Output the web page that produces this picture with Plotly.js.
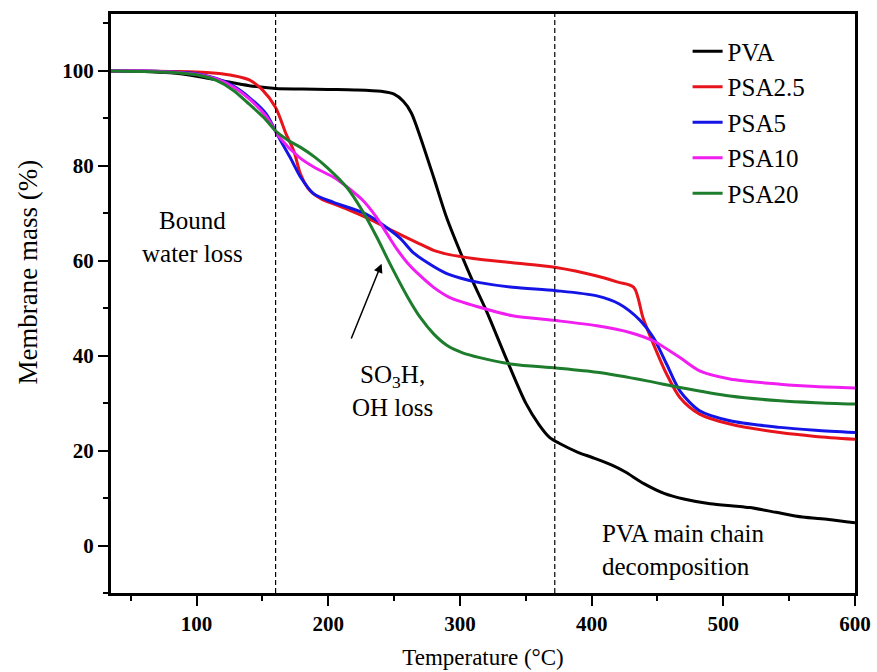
<!DOCTYPE html>
<html>
<head>
<meta charset="utf-8">
<script src="https://cdn.plot.ly/plotly-3.0.1.min.js"></script>
<style>html,body{margin:0;padding:0;background:#fff;}</style>
</head>
<body>
<div id="chart" style="width:877px;height:672px;"></div>
<script>
// Temperature (°C) and membrane mass (%)
const pvaT   = [35, 60, 80, 100, 120, 140, 160, 180, 200, 220, 240, 250, 257, 263, 270, 280, 290, 300, 310, 320, 335, 350, 360, 368, 375, 390, 400, 415, 425, 440, 455, 470, 490, 510, 520, 540, 560, 580, 600];
const pvaM   = [100, 99.9, 99.6, 98.9, 97.9, 96.9, 96.3, 96.2, 96.1, 96.0, 95.7, 95.1, 93.6, 91.2, 86, 77.6, 69, 62, 55.5, 49.5, 39.5, 30, 25.5, 22.8, 21.6, 19.6, 18.6, 17, 15.6, 13, 11, 9.8, 8.8, 8.3, 8.0, 7.0, 6.0, 5.5, 4.8];

const psa25T = [35, 60, 80, 100, 115, 128, 140, 150, 160, 168, 174, 179, 186, 195, 204, 215, 229, 249, 267, 280, 292, 310, 340, 373, 404, 420, 432, 439, 447, 457, 467, 482, 505, 543, 570, 600];
const psa25M = [100, 100, 99.9, 99.8, 99.5, 99.0, 98.1, 96.0, 92.3, 86.7, 83.0, 78.2, 74.8, 73.0, 72.0, 70.8, 69.1, 66.3, 63.9, 62.2, 61.3, 60.5, 59.6, 58.6, 56.8, 55.5, 54.4, 48.0, 42.4, 36.1, 31.2, 27.7, 25.6, 23.8, 23.0, 22.4];

const psa5T  = [35, 60, 80, 100, 115, 128, 140, 153, 161, 171, 179, 189, 204, 229, 254, 265, 280, 290, 305, 315, 340, 373, 404, 421, 437, 447, 457, 467, 482, 505, 543, 570, 600];
const psa5M  = [100, 100, 99.8, 99.4, 98.4, 96.8, 94.4, 90.9, 86.7, 81.8, 77.6, 74.1, 72.3, 69.8, 64.9, 61.6, 58.8, 57.3, 56.0, 55.4, 54.4, 53.7, 52.6, 50.9, 47.4, 43.8, 38.2, 32.6, 28.4, 26.3, 24.9, 24.3, 23.8];

const psa10T = [35, 60, 80, 100, 115, 128, 140, 153, 163, 178, 190, 204, 215, 226, 236, 245, 252, 260, 270, 280, 292, 315, 340, 373, 404, 429, 447, 467, 482, 505, 543, 570, 600];
const psa10M = [100, 100, 99.8, 99.3, 98.3, 96.6, 94.1, 90.4, 86.0, 81.8, 79.6, 77.6, 75.4, 72.8, 69.4, 65.5, 62.5, 59.6, 56.8, 54.4, 52.3, 50.2, 48.4, 47.4, 46.3, 44.9, 43.1, 39.6, 36.8, 35.1, 34.0, 33.5, 33.2];

const psa20T = [35, 60, 80, 100, 115, 128, 140, 151, 161, 170, 179, 190, 199, 214, 226, 237, 247, 260, 270, 280, 290, 302, 315, 340, 373, 404, 442, 467, 505, 543, 570, 600];
const psa20M = [100, 99.9, 99.7, 99.2, 98.0, 95.9, 93.0, 90.2, 87.1, 85.3, 83.9, 81.8, 79.7, 75.5, 70.5, 64.9, 59.3, 52.5, 48.0, 44.6, 42.2, 40.6, 39.6, 38.2, 37.4, 36.5, 34.7, 33.3, 31.5, 30.5, 30.1, 29.8];

const seriesNames  = ["PVA", "PSA2.5", "PSA5", "PSA10", "PSA20"];
const seriesColors = ["#000000", "#e8141c", "#1414e6", "#f01ef0", "#1e7d2d"];
const seriesT = [pvaT, psa25T, psa5T, psa10T, psa20T];
const seriesM = [pvaM, psa25M, psa5M, psa10M, psa20M];

const dashedX = [160, 372];

const serif = "Liberation Serif";

const traces = seriesNames.map((n, i) => ({
  type: "scatter",
  mode: "lines",
  name: n,
  x: seriesT[i],
  y: seriesM[i],
  line: {color: seriesColors[i], width: 3, shape: "spline", smoothing: 0.8}
}));

const layout = {
  width: 877,
  height: 672,
  margin: {l: 111, r: 22, t: 14, b: 79},
  paper_bgcolor: "#ffffff",
  plot_bgcolor: "#ffffff",
  font: {family: serif, color: "#000"},
  showlegend: true,
  legend: {
    x: 0.775, y: 0.975, xanchor: "left", yanchor: "top",
    bgcolor: "rgba(0,0,0,0)", borderwidth: 0,
    font: {family: serif, size: 25, color: "#000"},
    tracegroupgap: 0
  },
  xaxis: {
    range: [35, 600],
    tick0: 100, dtick: 100,
    ticks: "outside", ticklen: 10, tickwidth: 2, tickcolor: "#000",
    minor: {dtick: 50, ticklen: 5, tickwidth: 2, tickcolor: "#000", ticks: "outside"},
    showline: true, linewidth: 3, linecolor: "#000", mirror: true,
    showgrid: false, zeroline: false,
    tickfont: {family: serif, size: 21, color: "#000", weight: "bold"},
    title: {text: "Temperature (°C)", font: {family: serif, size: 23, color: "#000"}, standoff: 14}
  },
  yaxis: {
    range: [-10, 112],
    tick0: 0, dtick: 20,
    ticks: "outside", ticklen: 10, tickwidth: 2, tickcolor: "#000",
    minor: {dtick: 10, ticklen: 5, tickwidth: 2, tickcolor: "#000", ticks: "outside"},
    showline: true, linewidth: 3, linecolor: "#000", mirror: true,
    showgrid: false, zeroline: false,
    tickfont: {family: serif, size: 21, color: "#000", weight: "bold"}
  },
  shapes: dashedX.map(v => ({
    type: "line", xref: "x", yref: "paper", x0: v, x1: v, y0: 0, y1: 1,
    line: {color: "#000", width: 1.2, dash: "5px,3px"}
  })),
  annotations: [
    {x: -0.1116, y: 0.555, xref: "paper", yref: "paper", xanchor: "center", yanchor: "middle",
     text: "Membrane mass (%)", textangle: -90,
     showarrow: false, font: {family: serif, size: 27, color: "#000"}},
    {x: 97, y: 65, xref: "x", yref: "y", text: "Bound<br>water loss", showarrow: false,
     font: {family: serif, size: 25, color: "#000"}, align: "center"},
    {x: 249, y: 32.6, xref: "x", yref: "y", text: "SO<sub>3</sub>H,<br>OH loss", showarrow: false,
     font: {family: serif, size: 25, color: "#000"}, align: "center"},
    {x: 240.5, y: 59.4, ax: 217, ay: 43.3, xref: "x", yref: "y", axref: "x", ayref: "y",
     text: "", showarrow: true, arrowhead: 2, arrowsize: 1.2, arrowwidth: 1.5, arrowcolor: "#000"},
    {x: 406, y: -0.9, xref: "x", yref: "y", xanchor: "left", text: "PVA main chain<br>decomposition", showarrow: false,
     font: {family: serif, size: 25, color: "#000"}, align: "left"}
  ]
};

Plotly.newPlot("chart", traces, layout, {displayModeBar: false, staticPlot: true});
</script>
</body>
</html>
